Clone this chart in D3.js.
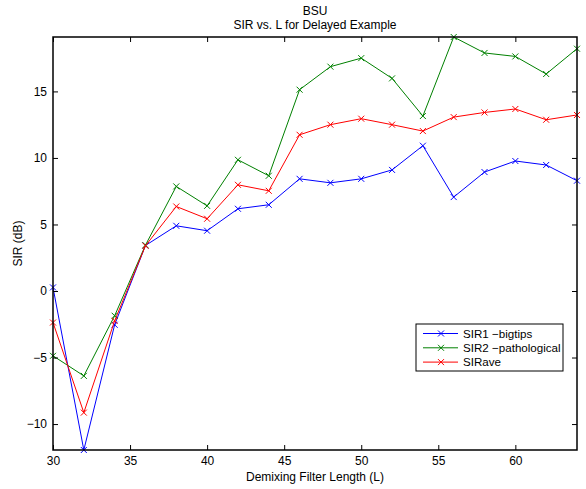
<!DOCTYPE html>
<html>
<head>
<meta charset="utf-8">
<script src="https://cdn.jsdelivr.net/npm/d3@7"></script>
<style>
  html, body { margin: 0; padding: 0; background: #fff; }
  svg { display: block; font-family: "Liberation Sans", Arial, Helvetica, sans-serif; }
</style>
</head>
<body>
<svg id="chart" width="586" height="489"></svg>
<script>
// Filter lengths L and SIR (dB) per method
const filterLengths = [30, 32, 34, 36, 38, 40, 42, 44, 46, 48, 50, 52, 54, 56, 58, 60, 62, 64];
const sir1Bigtips = [0.27, -11.95, -2.54, 3.42, 4.90, 4.53, 6.18, 6.48, 8.43, 8.13, 8.43, 9.10, 10.92, 7.06, 8.94, 9.77, 9.47, 8.29];
const sir2Pathological = [-4.87, -6.38, -1.86, 3.45, 7.86, 6.40, 9.86, 8.66, 15.13, 16.86, 17.50, 15.98, 13.15, 19.09, 17.89, 17.63, 16.31, 18.21];
const sirAverage = [-2.37, -9.14, -2.24, 3.40, 6.35, 5.43, 7.98, 7.53, 11.74, 12.50, 12.95, 12.50, 12.02, 13.07, 13.42, 13.68, 12.87, 13.23];

const seriesNames = ["SIR1 \u2212bigtips", "SIR2 \u2212pathological", "SIRave"];
const xTicks = [30, 35, 40, 45, 50, 55, 60];
const yTicks = [-10, -5, 0, 5, 10, 15];

const colors = ["#0000ff", "#008000", "#ff0000"];
const seriesValues = [sir1Bigtips, sir2Pathological, sirAverage];

const svg = d3.select("#chart");
const margin = { left: 53, top: 37, right: 9, bottom: 39 };
const W = 586, H = 489;
const x0 = margin.left, x1 = W - margin.right;
const y0 = margin.top, y1 = H - margin.bottom;
const fontSize = "12px";

// Tight axis limits: x spans the data, y spans data min to max
const allY = seriesValues.flat();
const x = d3.scaleLinear().domain(d3.extent(filterLengths)).range([x0, x1]);
const y = d3.scaleLinear().domain(d3.extent(allY)).range([y1, y0]);

// Plot background
svg.append("rect").attr("x", x0).attr("y", y0).attr("width", x1 - x0).attr("height", y1 - y0)
  .attr("fill", "#fff");

// Series lines and x markers
const line = d3.line().x((d, i) => x(filterLengths[i])).y(d => y(d));
const mk = 3;
seriesValues.forEach((vals, k) => {
  svg.append("path").datum(vals)
    .attr("d", line).attr("fill", "none")
    .attr("stroke", colors[k]).attr("stroke-width", 1);
  svg.append("g").selectAll("path").data(vals).join("path")
    .attr("d", (d, i) => {
      const cx = x(filterLengths[i]), cy = y(d);
      return `M${cx - mk},${cy - mk}L${cx + mk},${cy + mk}M${cx - mk},${cy + mk}L${cx + mk},${cy - mk}`;
    })
    .attr("stroke", colors[k]).attr("stroke-width", 1).attr("fill", "none");
});

// Axes with inward ticks on all four sides
const tickLen = 5;
function styleAxis(g) {
  g.selectAll(".domain").remove();
  g.selectAll(".tick line").attr("stroke", "#000").attr("stroke-width", 1);
  g.selectAll(".tick text").attr("fill", "#000").style("font-size", fontSize);
}
svg.append("g").attr("transform", `translate(0,${y1})`)
  .call(d3.axisBottom(x).tickValues(xTicks).tickSize(-tickLen).tickPadding(6).tickFormat(d3.format("d")))
  .call(styleAxis);
svg.append("g").attr("transform", `translate(0,${y0})`)
  .call(d3.axisTop(x).tickValues(xTicks).tickSize(-tickLen).tickFormat(""))
  .call(styleAxis);
svg.append("g").attr("transform", `translate(${x0},0)`)
  .call(d3.axisLeft(y).tickValues(yTicks).tickSize(-tickLen).tickPadding(6)
    .tickFormat(d => d < 0 ? "\u2212" + Math.abs(d) : String(d)))
  .call(styleAxis);
svg.append("g").attr("transform", `translate(${x1},0)`)
  .call(d3.axisRight(y).tickValues(yTicks).tickSize(-tickLen).tickFormat(""))
  .call(styleAxis);

// Axes box
svg.append("rect").attr("x", x0).attr("y", y0).attr("width", x1 - x0).attr("height", y1 - y0)
  .attr("fill", "none").attr("stroke", "#000").attr("stroke-width", 1.5);

// Titles and axis labels
const cx = (x0 + x1) / 2;
svg.append("text").attr("x", cx).attr("y", 15).attr("text-anchor", "middle")
  .style("font-size", fontSize).text("BSU");
svg.append("text").attr("x", cx).attr("y", 28.5).attr("text-anchor", "middle")
  .style("font-size", fontSize).text("SIR vs. L for Delayed Example");
svg.append("text").attr("x", cx).attr("y", 480.5).attr("text-anchor", "middle")
  .style("font-size", fontSize).text("Demixing Filter Length (L)");
svg.append("text")
  .attr("transform", `translate(22,${(y0 + y1) / 2}) rotate(-90)`)
  .attr("text-anchor", "middle").style("font-size", fontSize).text("SIR (dB)");

// Legend
const lg = svg.append("g").attr("transform", "translate(416,324)");
lg.append("rect").attr("width", 147).attr("height", 47)
  .attr("fill", "#fff").attr("stroke", "#000").attr("stroke-width", 1);
seriesNames.forEach((name, k) => {
  const yy = 9.5 + k * 14.3;
  lg.append("line").attr("x1", 7).attr("x2", 42).attr("y1", yy).attr("y2", yy)
    .attr("stroke", colors[k]).attr("stroke-width", 1);
  lg.append("path")
    .attr("d", `M${25 - mk},${yy - mk}L${25 + mk},${yy + mk}M${25 - mk},${yy + mk}L${25 + mk},${yy - mk}`)
    .attr("stroke", colors[k]).attr("stroke-width", 1);
  lg.append("text").attr("x", 47).attr("y", yy + 4).style("font-size", "11.6px").text(name);
});
</script>
</body>
</html>
